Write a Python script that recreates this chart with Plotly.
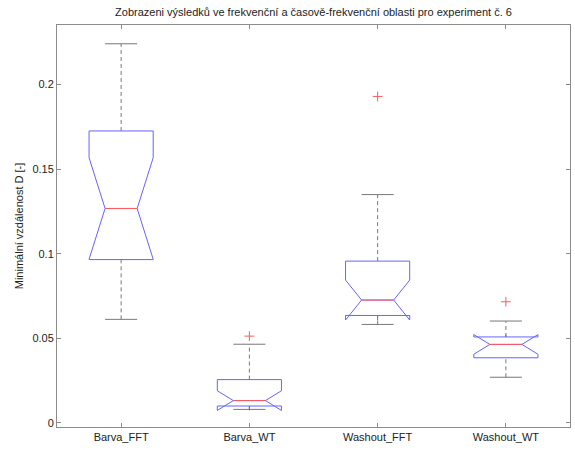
import plotly.graph_objects as go

# Box statistics per group (minimální vzdálenost D)
categories = ["Barva_FFT", "Barva_WT", "Washout_FFT", "Washout_WT"]
q1_vals = [0.0965, 0.0100, 0.0635, 0.0385]
median_vals = [0.1267, 0.0132, 0.0726, 0.0464]
q3_vals = [0.1725, 0.0256, 0.0956, 0.0508]
lower_whisker = [0.0612, 0.0080, 0.0582, 0.0270]
upper_whisker = [0.2240, 0.0465, 0.1349, 0.0602]
notch_span = [0.0300, 0.0058, 0.0118, 0.0058]
outlier_group = [1, 2, 3]
outlier_vals = [0.0513, 0.1929, 0.0716]

positions = list(range(len(categories)))
BOX_W = 0.5
NOTCH_W = 0.25          # inset of each notch side, as a fraction of box width
CAP_HALF = BOX_W / 4
MED_HALF = BOX_W / 2 * (1 - 2 * NOTCH_W)

blue = "rgb(100,100,255)"
red = "rgb(255,90,90)"
grey = "rgb(120,120,120)"
txt = "#222222"
font = "Liberation Sans, Arial, sans-serif"

fig = go.Figure()

# dashed whiskers
wx, wy = [], []
for p, lo, q1, q3, hi in zip(positions, lower_whisker, q1_vals, q3_vals, upper_whisker):
    wx += [p, p, None, p, p, None]
    wy += [q3, hi, None, lo, q1, None]
fig.add_trace(go.Scatter(x=wx, y=wy, mode="lines",
                         line=dict(color=grey, width=1, dash="4px,3px"),
                         hoverinfo="skip"))

# whisker caps
cx, cy = [], []
for p, lo, hi in zip(positions, lower_whisker, upper_whisker):
    cx += [p - CAP_HALF, p + CAP_HALF, None, p - CAP_HALF, p + CAP_HALF, None]
    cy += [hi, hi, None, lo, lo, None]
fig.add_trace(go.Scatter(x=cx, y=cy, mode="lines",
                         line=dict(color=grey, width=1), hoverinfo="skip"))

# notched boxes
fig.add_trace(go.Box(
    x=positions, q1=q1_vals, median=median_vals, q3=q3_vals,
    lowerfence=q1_vals, upperfence=q3_vals, notchspan=notch_span,
    notched=True, notchwidth=NOTCH_W, width=BOX_W, whiskerwidth=0,
    boxpoints=False, line=dict(color=blue, width=1),
    fillcolor="rgba(0,0,0,0)", hoverinfo="skip"))

# median lines
mx, my = [], []
for p, m in zip(positions, median_vals):
    mx += [p - MED_HALF, p + MED_HALF, None]
    my += [m, m, None]
fig.add_trace(go.Scatter(x=mx, y=my, mode="lines",
                         line=dict(color=red, width=1), hoverinfo="skip"))

# outliers
fig.add_trace(go.Scatter(
    x=[positions[g] for g in outlier_group], y=outlier_vals, mode="markers",
    marker=dict(symbol="cross-thin", size=7, line=dict(color=red, width=1)),
    hoverinfo="skip"))

axis_common = dict(
    showline=True, linecolor="rgb(140,140,140)", linewidth=1, mirror="ticks",
    ticks="inside", ticklen=4, tickcolor="rgb(140,140,140)", showgrid=False,
    zeroline=False, automargin=False,
    tickfont=dict(family=font, size=11, color=txt))

fig.update_layout(
    width=575, height=450, template="none",
    margin=dict(l=57, r=5, t=25, b=23),
    paper_bgcolor="white", plot_bgcolor="white", showlegend=False,
    title=dict(text="Zobrazeni výsledků ve frekvenční a časově-frekvenční oblasti pro experiment č. 6",
               x=0.5, xref="paper", xanchor="center", y=1 - 12 / 450, yanchor="middle",
               font=dict(family=font, size=11, color=txt)),
    xaxis=dict(range=[-0.5, 3.5], tickmode="array", tickvals=positions,
               ticktext=categories, **axis_common),
    yaxis=dict(range=[-0.0024, 0.2351], tick0=0, dtick=0.05,
               title=dict(text="Minimální vzdálenost D [-]", standoff=6,
                          font=dict(family=font, size=11, color=txt)),
               **axis_common),
)

fig.write_html("out.html")
